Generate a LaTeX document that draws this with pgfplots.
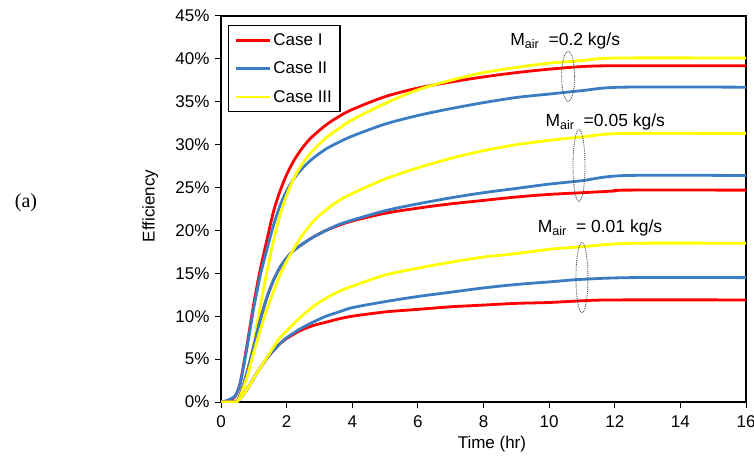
\documentclass[border=0pt]{standalone}
\usepackage{pgfplots}
\pgfplotsset{compat=1.18}
\usepackage{fontspec}
\setmainfont{Liberation Sans}
\newfontfamily\seriffont{Liberation Serif}
\definecolor{cI}{RGB}{255,0,0}
\definecolor{cII}{RGB}{58,125,194}
\definecolor{cIII}{RGB}{255,255,0}
\newcommand{\fs}{\fontsize{17}{20}\selectfont}
\newcommand{\mair}{M\raisebox{-3.5pt}{\fontsize{12.5}{13}\selectfont air}}
\begin{document}
\begin{tikzpicture}
\useasboundingbox (-221pt,-53pt) rectangle (533pt,402pt);
\begin{axis}[
  scale only axis, width=525pt, height=386pt,
  xmin=0, xmax=16, ymin=0, ymax=45,
  xtick={0,2,...,16}, ytick={0,5,...,45},
  yticklabels={0\%,5\%,10\%,15\%,20\%,25\%,30\%,35\%,40\%,45\%},
  xtick pos=bottom, ytick pos=left,
  tick align=outside, major tick length=6pt,
  tick style={black, line width=1pt},
  axis line style={black, line width=1.2pt},
  /pgf/number format/assume math mode=true,
  tick label style={font=\fs},
  xticklabel style={yshift=-4pt},
  yticklabel style={xshift=-2pt},
  xlabel={Time\ (hr)}, ylabel={Efficiency},
  label style={font=\fs},
  xlabel style={at={(axis description cs:0.516,-0.108)}, anchor=center},
  ylabel style={at={(axis description cs:-0.135,0.508)}, anchor=center},
  legend style={at={(axis description cs:0.0133,0.977)}, anchor=north west,
    draw=black, line width=1.2pt, font=\fs, row sep=11pt, inner xsep=6pt, inner ysep=6pt,
    legend cell align=left},
  legend image code/.code={\draw[#1, line width=2.8pt] (0pt,0pt) -- (34pt,0pt);},
  every axis plot/.append style={line width=2.8pt, smooth, tension=0.5},
  clip=true,
]
% M_air = 0.2
\addplot[cI] coordinates {(0,0)(0.2,0.1)(0.4,0.5)(0.5,1.2)(0.6,2.5)(0.8,6.8)(1.0,11.5)(1.2,15.5)(1.4,18.9)(1.6,22.2)(1.8,24.6)(2.0,26.5)(2.2,28.0)(2.4,29.2)(2.6,30.2)(2.8,31.0)(3.2,32.3)(3.6,33.3)(4,34.1)(5,35.6)(6,36.6)(7,37.3)(8,37.9)(9,38.4)(10,38.8)(11,39.1)(12,39.2)(16,39.2)};
\addlegendentry{Case I}
\addplot[cII] coordinates {(0,0)(0.2,0.2)(0.4,0.6)(0.5,1.2)(0.6,2.4)(0.8,6.5)(1.0,11.0)(1.2,14.8)(1.4,17.8)(1.6,20.6)(1.8,22.9)(2.0,24.6)(2.2,25.9)(2.4,26.9)(2.6,27.7)(2.8,28.4)(3.2,29.5)(3.6,30.3)(4,31.0)(5,32.4)(6,33.4)(7,34.2)(8,34.9)(9,35.5)(10,35.9)(11,36.3)(12.2,36.7)(16,36.7)};
\addlegendentry{Case II}
\addplot[cIII] coordinates {(0,0)(0.45,0)(0.5,0.2)(0.6,0.9)(0.8,3.2)(1.0,6.8)(1.2,11.2)(1.4,15.2)(1.6,18.8)(1.8,21.8)(2.0,24.1)(2.2,25.9)(2.4,27.3)(2.6,28.4)(2.8,29.3)(3.2,30.8)(3.6,31.9)(4,32.9)(5,34.8)(6,36.4)(7,37.5)(8,38.4)(9,39.0)(10,39.5)(11,39.8)(12,40.1)(16,40.1)};
\addlegendentry{Case III}
% M_air = 0.05
\addplot[cI, forget plot] coordinates {(0,0)(0.45,0)(0.5,0.1)(0.6,1.0)(0.8,3.5)(1.0,6.5)(1.2,9.6)(1.4,12.2)(1.6,14.2)(1.8,15.7)(2.0,16.8)(2.2,17.6)(2.4,18.2)(2.8,19.2)(3.2,20.0)(3.6,20.6)(4,21.1)(5,22.0)(6,22.6)(7,23.1)(8,23.5)(9,23.9)(10,24.2)(11,24.4)(12,24.6)(12.3,24.7)(16,24.7)};
\addplot[cII, forget plot] coordinates {(0,0)(0.45,0)(0.5,0.1)(0.6,1.0)(0.8,3.5)(1.0,6.5)(1.2,9.6)(1.4,12.2)(1.6,14.2)(1.8,15.7)(2.0,16.8)(2.2,17.6)(2.4,18.2)(2.8,19.2)(3.2,20.0)(3.6,20.7)(4,21.2)(5,22.3)(6,23.1)(7,23.8)(8,24.4)(9,24.9)(10,25.4)(11,25.8)(12.3,26.4)(16,26.4)};
\addplot[cIII, forget plot] coordinates {(0,0)(0.45,0)(0.5,0.1)(0.6,0.8)(0.8,3.0)(1.0,5.8)(1.2,8.4)(1.4,10.8)(1.6,12.9)(1.8,14.8)(2.0,16.4)(2.4,19.0)(2.8,21.0)(3.2,22.4)(3.6,23.5)(4,24.3)(5,26.0)(6,27.3)(7,28.4)(8,29.3)(9,30.0)(10,30.5)(11,30.9)(12.2,31.3)(16,31.3)};
% M_air = 0.01
\addplot[cI, forget plot] coordinates {(0,0)(0.45,0)(0.5,0.1)(0.6,0.5)(0.8,1.5)(1.0,2.8)(1.2,4.0)(1.4,5.1)(1.6,6.0)(1.8,6.8)(2.0,7.4)(2.4,8.3)(2.8,8.9)(3.2,9.3)(3.6,9.7)(4,10.0)(5,10.5)(6,10.8)(7,11.1)(8,11.3)(9,11.5)(10,11.6)(11,11.8)(12,11.9)(16,11.9)};
\addplot[cII, forget plot] coordinates {(0,0)(0.45,0)(0.5,0.1)(0.6,0.5)(0.8,1.5)(1.0,2.8)(1.2,4.0)(1.4,5.1)(1.6,6.0)(1.8,6.8)(2.0,7.5)(2.4,8.5)(2.8,9.3)(3.2,10.0)(3.6,10.5)(4,11.0)(5,11.7)(6,12.3)(7,12.8)(8,13.3)(9,13.7)(10,14.0)(11,14.3)(12.5,14.5)(16,14.5)};
\addplot[cIII, forget plot] coordinates {(0,0)(0.45,0)(0.5,0.1)(0.6,0.5)(0.8,1.5)(1.0,2.8)(1.2,4.0)(1.4,5.2)(1.6,6.4)(1.8,7.5)(2.0,8.3)(2.4,9.8)(2.8,11.1)(3.2,12.1)(3.6,12.9)(4,13.5)(5,14.8)(6,15.6)(7,16.3)(8,16.9)(9,17.3)(10,17.8)(11,18.1)(12.5,18.5)(16,18.5)};
% annotations
\draw[black!70, densely dotted, line width=0.9pt] (axis cs:10.58,37.97) ellipse [x radius=6.5pt, y radius=25pt];
\draw[black!70, densely dotted, line width=0.9pt] (axis cs:10.91,27.57) ellipse [x radius=6pt, y radius=36pt];
\draw[black!70, densely dotted, line width=0.9pt] (axis cs:11.0,14.49) ellipse [x radius=6pt, y radius=35pt];
\node[font=\fontsize{17.5}{20}\selectfont, inner sep=0pt] at (axis cs:10.49,42.1) {\mair\ \ =0.2 kg/s};
\node[font=\fontsize{17.5}{20}\selectfont, inner sep=0pt] at (axis cs:11.71,32.7) {\mair\ \ =0.05 kg/s};
\node[font=\fontsize{17.5}{20}\selectfont, inner sep=0pt] at (axis cs:11.55,20.3) {\mair\ \ = 0.01 kg/s};
\end{axis}
\node[font=\seriffont\fontsize{20}{24}\selectfont] at (-195pt,199pt) {(a)};
\end{tikzpicture}
\end{document}
